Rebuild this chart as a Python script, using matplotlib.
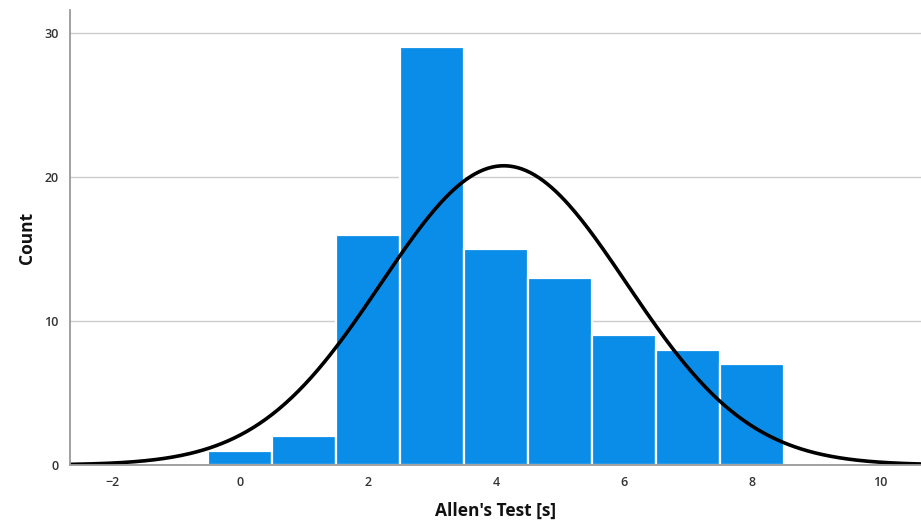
import matplotlib.pyplot as plt
import numpy as np

plt.rcParams['font.family'] = ['Open Sans', 'DejaVu Sans']

# histogram of Allen's test times, bins of width 1 centred on integers
bin_centers = [0, 1, 2, 3, 4, 5, 6, 7, 8]
counts = [1, 2, 16, 29, 15, 13, 9, 8, 7]
x_ticks = [-2, 0, 2, 4, 6, 8, 10]
y_ticks = [0, 10, 20, 30]

# fitted normal curve parameters
fit_mean = 4.12
fit_sd = 1.92

bar_color = '#0a8de8'
text_color = '#333333'
axis_color = '#9a9a9a'

fig = plt.figure(figsize=(9.21, 5.23), dpi=100)
ax = fig.add_axes([0.076, 0.111, 0.924, 0.87])

ax.bar(bin_centers, counts, width=1.0, color=bar_color,
       edgecolor='white', linewidth=1.6, zorder=2)

n = sum(counts)
xmin, xmax = -2.66, 10.64
xs = np.linspace(xmin, xmax, 400)
pdf = np.exp(-0.5 * ((xs - fit_mean) / fit_sd) ** 2) / (fit_sd * np.sqrt(2 * np.pi))
ax.plot(xs, n * 1.0 * pdf, color='black', linewidth=2.6, zorder=3,
        solid_capstyle='butt')

ax.set_xlim(xmin, xmax)
ax.set_ylim(0, 31.6)
ax.set_xticks(x_ticks)
ax.set_yticks(y_ticks)
ax.set_xticklabels(['\u22122' if t == -2 else str(t) for t in x_ticks])

ax.grid(axis='y', color='#cccccc', linewidth=1.0, zorder=0)
ax.set_axisbelow(True)
for side in ['top', 'right']:
    ax.spines[side].set_visible(False)
for side in ['left', 'bottom']:
    ax.spines[side].set_color(axis_color)
    ax.spines[side].set_linewidth(1.3)
    ax.spines[side].set_zorder(4)

ax.tick_params(length=0, labelsize=9, colors=text_color, pad=8)
for lab in ax.get_xticklabels() + ax.get_yticklabels():
    lab.set_fontweight('semibold')

ax.set_xlabel("Allen's Test [s]", fontsize=12.5, fontweight='bold',
              color='#111111', labelpad=9)
ax.set_ylabel('Count', fontsize=12.5, fontweight='bold',
              color='#111111', labelpad=6)

fig.savefig('out.png', dpi=100)
